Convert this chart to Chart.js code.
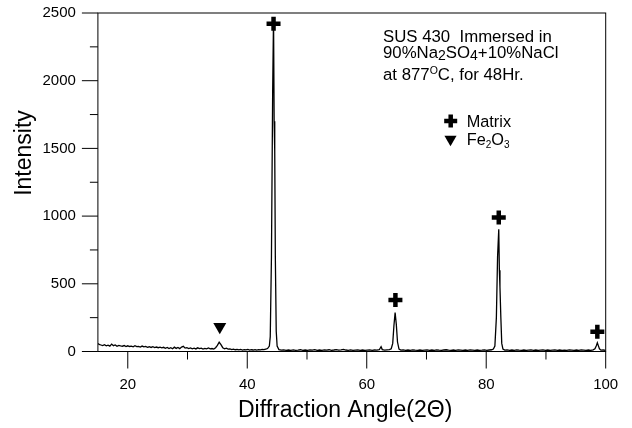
<!DOCTYPE html>
<html>
<head>
<meta charset="utf-8">
<script src="https://cdn.jsdelivr.net/npm/chart.js@4.4.1/dist/chart.umd.min.js"></script>
<style>html,body{margin:0;background:#fff}canvas{display:block}</style>
</head>
<body>
<canvas id="xrd" width="632" height="428"></canvas>
<script>
// [2theta, intensity]
const scan = [
  [15.0,60],[15.2,52],[15.5,48],[15.8,44],[16.1,50],[16.4,42],[16.7,47],[17.0,40],[17.3,55],[17.6,43],
  [17.9,48],[18.2,38],[18.5,45],[18.8,41],[19.1,39],[19.4,44],[19.7,36],[20.0,42],[20.3,37],[20.6,40],
  [20.9,35],[21.2,43],[21.5,36],[21.8,38],[22.1,33],[22.4,40],[22.7,34],[23.0,37],[23.3,31],[23.6,35],
  [23.9,30],[24.2,36],[24.5,29],[24.8,33],[25.1,28],[25.4,32],[25.7,27],[26.0,31],[26.3,24],[26.6,30],
  [26.9,22],[27.2,28],[27.5,20],[27.8,32],[28.1,23],[28.4,30],[28.7,21],[29.0,33],[29.3,38],[29.6,25],
  [29.9,28],[30.2,22],[30.5,26],[30.8,20],[31.1,24],[31.4,19],[31.7,27],[32.0,21],[32.3,25],[32.6,18],
  [32.9,23],[33.2,20],[33.5,26],[33.8,19],[34.1,22],[34.4,18],[34.7,28],[35.0,45],[35.3,68],[35.6,50],
  [35.9,28],[36.2,20],[36.5,24],[36.8,17],[37.1,19],[37.4,14],[37.7,18],[38.0,13],[38.3,16],[38.6,12],
  [38.9,15],[39.2,11],[39.5,14],[39.8,12],[40.1,15],[40.4,10],[40.7,13],[41.0,11],[41.3,14],[41.6,10],
  [41.9,13],[42.2,12],[42.5,16],[42.8,14],[43.1,18],[43.4,22],[43.7,40],[43.85,110],[44.05,700],[44.25,1900],
  [44.4,2470],[44.5,1700],[44.6,1480],[44.7,700],[44.85,150],[45.0,40],[45.3,14],[45.7,10],[46.1,12],[46.5,8],
  [46.9,11],[47.3,9],[47.7,12],[48.1,8],[48.5,10],[48.9,13],[49.3,9],[49.7,11],[50.1,8],[50.5,12],
  [50.9,10],[51.3,14],[51.7,9],[52.1,11],[52.5,8],[52.9,12],[53.3,10],[53.7,13],[54.1,9],[54.5,11],
  [54.9,14],[55.3,10],[55.7,12],[56.1,15],[56.5,11],[56.9,9],[57.3,12],[57.7,8],[58.1,10],[58.5,12],
  [58.9,9],[59.3,11],[59.7,8],[60.1,10],[60.5,12],[60.9,9],[61.3,11],[61.7,10],[62.1,13],[62.4,35],
  [62.6,14],[63.0,10],[63.4,12],[63.8,14],[64.1,20],[64.35,60],[64.55,190],[64.75,287],[64.95,200],[65.15,70],
  [65.4,18],[65.7,10],[66.1,12],[66.5,9],[66.9,11],[67.3,8],[67.7,12],[68.1,10],[68.5,9],[68.9,11],
  [69.3,8],[69.7,10],[70.1,12],[70.5,9],[70.9,11],[71.3,8],[71.7,12],[72.1,10],[72.5,9],[72.9,11],
  [73.3,13],[73.7,10],[74.1,8],[74.5,11],[74.9,9],[75.3,12],[75.7,10],[76.1,8],[76.5,11],[76.9,9],
  [77.3,12],[77.7,10],[78.1,8],[78.5,11],[78.9,9],[79.3,10],[79.7,12],[80.1,9],[80.5,11],[80.9,13],
  [81.2,18],[81.45,40],[81.7,250],[81.9,700],[82.1,902],[82.2,600],[82.3,476],[82.45,250],[82.6,60],[82.8,18],
  [83.1,10],[83.5,12],[83.9,9],[84.3,11],[84.7,8],[85.1,12],[85.5,10],[85.9,9],[86.3,11],[86.7,8],
  [87.1,10],[87.5,12],[87.9,9],[88.3,11],[88.7,8],[89.1,10],[89.5,12],[89.9,9],[90.3,11],[90.7,8],
  [91.1,10],[91.5,12],[91.9,9],[92.3,11],[92.7,8],[93.1,10],[93.5,9],[93.9,12],[94.3,10],[94.7,8],
  [95.1,11],[95.5,9],[95.9,12],[96.3,10],[96.7,8],[97.1,11],[97.5,9],[97.9,12],[98.2,20],[98.45,45],
  [98.6,64],[98.75,45],[98.95,20],[99.2,10],[99.6,11],[100,9]
];
const matrixAngle = [44.4, 64.8, 82.1, 98.6];
const matrixMark = [2420, 380, 990, 145];
const oxideAngle = [35.4];
const oxideMark = [183];
const xMajor = [20, 40, 60, 80, 100];
const xMinor = [30, 50, 70, 90];
const yMajor = [0, 500, 1000, 1500, 2000, 2500];
const yMinor = [250, 750, 1250, 1750, 2250];

const FONT = "'Liberation Sans', Arial, sans-serif";

function runs(ctx, x, y, parts) {
  parts.forEach(([t, size, dy]) => {
    ctx.font = `${size}px ${FONT}`;
    ctx.fillText(t, x, y + dy);
    x += ctx.measureText(t).width;
  });
}

const frame = {
  id: "frame",
  afterDatasetsDraw(c) {
    const { ctx, chartArea: a, scales: { x, y } } = c;
    ctx.save();
    ctx.strokeStyle = "#000"; ctx.lineWidth = 1;
    ctx.strokeRect(a.left, a.top, a.right - a.left, a.bottom - a.top);
    ctx.beginPath();
    xMajor.forEach(v => { const p = x.getPixelForValue(v); ctx.moveTo(p, a.bottom); ctx.lineTo(p, a.bottom + 17) });
    xMinor.forEach(v => { const p = x.getPixelForValue(v); ctx.moveTo(p, a.bottom); ctx.lineTo(p, a.bottom + 8) });
    yMajor.forEach(v => { const p = y.getPixelForValue(v); ctx.moveTo(a.left, p); ctx.lineTo(a.left - 16, p) });
    yMinor.forEach(v => { const p = y.getPixelForValue(v); ctx.moveTo(a.left, p); ctx.lineTo(a.left - 8, p) });
    ctx.stroke();

    ctx.fillStyle = "#000"; ctx.textAlign = "left"; ctx.textBaseline = "alphabetic";
    runs(ctx, 383, 41.5, [["SUS 430  Immersed in", 16.8, 0]]);
    runs(ctx, 383, 57.5, [["90%Na", 16.8, 0], ["2", 14, 2], ["SO", 16.8, 0], ["4", 14, 2], ["+10%NaCl", 16.8, 0]]);
    runs(ctx, 383, 79.5, [["at 877", 16.8, 0], ["O", 10.5, -6], ["C, for 48Hr.", 16.8, 0]]);

    ctx.lineWidth = 4.5;
    Chart.helpers.drawPoint(ctx, { pointStyle: "cross", radius: 6.5, borderWidth: 4.5, rotation: 0 }, 450.7, 121);
    ctx.lineWidth = 0;
    Chart.helpers.drawPoint(ctx, { pointStyle: "triangle", radius: 7, borderWidth: 0, rotation: 180 }, 450.5, 139.2);
    runs(ctx, 466.7, 127, [["Matrix", 16.3, 0]]);
    runs(ctx, 466.7, 145, [["Fe", 16.3, 0], ["2", 10, 3], ["O", 16.3, 0], ["3", 10, 3]]);

    ctx.font = `23px ${FONT}`;
    ctx.fillText("Diffraction Angle(2\u0398)", 238, 417);
    ctx.translate(31, 153); ctx.rotate(-Math.PI / 2);
    ctx.textAlign = "center";
    ctx.fillText("Intensity", 0, 0);
    ctx.restore();
  }
};

new Chart(document.getElementById("xrd"), {
  type: "scatter",
  data: {
    datasets: [
      { data: scan.map(([a, i]) => ({ x: a, y: i })), showLine: true, borderColor: "#000", borderWidth: 1.3, pointRadius: 0, order: 3 },
      { data: matrixAngle.map((a, i) => ({ x: a, y: matrixMark[i] })), pointStyle: "cross", pointRadius: 7, borderWidth: 4.5, borderColor: "#000", order: 1 },
      { data: oxideAngle.map((a, i) => ({ x: a, y: oxideMark[i] })), pointStyle: "triangle", rotation: 180, pointRadius: 7.5, backgroundColor: "#000", borderColor: "#000", borderWidth: 0, order: 2 }
    ]
  },
  options: {
    responsive: false, animation: false, events: [],
    layout: { padding: { top: 13, right: 26.3, left: 0, bottom: 0 } },
    plugins: { legend: { display: false }, tooltip: { enabled: false } },
    scales: {
      x: {
        type: "linear", min: 15, max: 100,
        grid: { display: false, drawTicks: false }, border: { display: false },
        ticks: { stepSize: 10, autoSkip: false, maxRotation: 0, callback: v => v % 20 === 0 ? v : "", color: "#000", font: { family: FONT, size: 15 }, padding: 24 },
        afterFit: s => { s.height = 76.5; s.paddingLeft = 0; s.paddingRight = 0 }
      },
      y: {
        min: 0, max: 2500,
        grid: { display: false, drawTicks: false }, border: { display: false },
        ticks: { stepSize: 250, autoSkip: false, callback: v => v % 500 === 0 ? v : "", color: "#000", font: { family: FONT, size: 15 }, padding: 22 },
        afterFit: s => { s.width = 97.9; s.paddingTop = 0; s.paddingBottom = 0 }
      }
    }
  },
  plugins: [frame]
});
</script>
</body>
</html>
